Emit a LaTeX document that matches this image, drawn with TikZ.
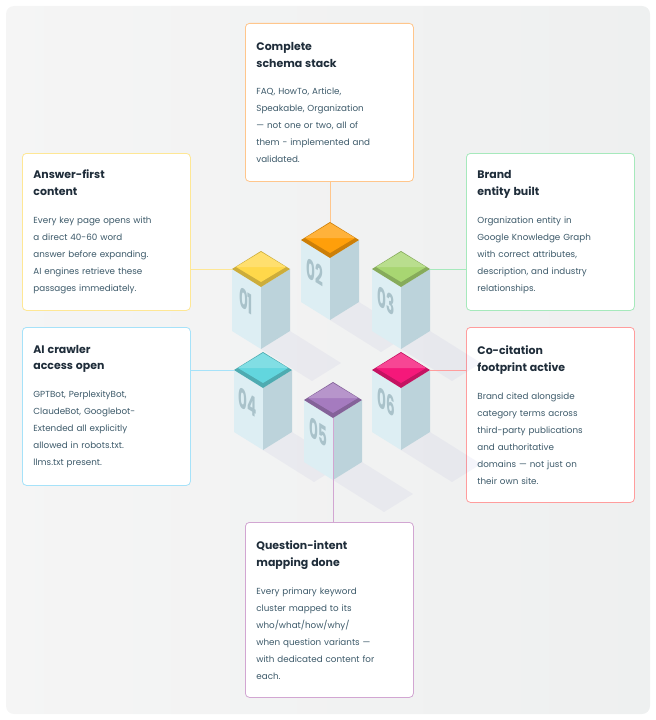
\documentclass[tikz,border=0pt]{standalone}
\usepackage{fontspec}
\setmainfont{Poppins}
\usetikzlibrary{positioning}
\definecolor{titlecol}{HTML}{1F2D3A}
\definecolor{bodycol}{HTML}{3D5A6A}
\definecolor{leftface}{HTML}{DDEEF3}
\definecolor{rightface}{HTML}{BCD3DB}
\definecolor{numcol}{HTML}{A9C2CA}
\definecolor{cyellow}{HTML}{FFD84A}
\definecolor{corange}{HTML}{FF9F0A}
\definecolor{cgreen}{HTML}{A8D672}
\definecolor{ccyan}{HTML}{62D6DE}
\definecolor{cpurple}{HTML}{A57BBF}
\definecolor{cpink}{HTML}{F5187A}
\tikzset{
  card/.style={draw, fill=white, rounded corners=4bp, line width=0.8bp,
    anchor=north west, align=left, text width=146bp, inner xsep=11bp,
    inner ysep=7bp, text=bodycol, font=\fontsize{8.8}{17}\selectfont},
  link/.style={line width=0.7bp}
}
\newcommand{\cardtext}[2]{{\fontsize{11}{21}\selectfont\bfseries\color{titlecol}#1}\\[11bp]#2}
% one pillar: top vertex, colour, number
\newcommand{\pillar}[4]{%
  \begin{scope}[shift={(#1,#2)}]
    \fill[blue!40!gray, opacity=0.05] (0,98) -- (29,80) -- (80,112) -- (51,130) -- cycle;
    \fill[leftface] (-29,18) -- (0,36) -- (0,98) -- (-29,80) -- cycle;
    \fill[rightface] (29,18) -- (0,36) -- (0,98) -- (29,80) -- cycle;
    \fill[#3!80!black] (-29,18) -- (0,0) -- (29,18) -- (0,36) -- cycle;
    \fill[#3] (-25,16) -- (0,1) -- (25,16) -- (0,31) -- cycle;
    \fill[white, opacity=0.2] (-25,16) -- (0,1) -- (25,16) -- cycle;
    \node[text=numcol, font=\fontsize{22}{22}\selectfont\bfseries,
      cm={1,-0.62,0,1,(0,0)}, transform shape] at (-15,50) {\scalebox{0.62}[1.25]{#4}};
  \end{scope}}
\begin{document}
\begin{tikzpicture}[x=1bp, y=-1bp]
  \useasboundingbox (0,0) rectangle (656,720);
  \shade[left color=gray!8, right color=teal!10!gray!12, rounded corners=8bp]
    (6,6) rectangle (650,714);
  % cards
  \node[card, draw=orange!45, minimum height=158bp] (schema) at (245,23)
    {\cardtext{Complete\\schema stack}{FAQ, HowTo, Article,\\Speakable, Organization\\— not one or two, all of\\them - implemented and\\validated.}};
  \node[card, draw=yellow!60!orange!40, minimum height=157bp] (answer) at (22,153)
    {\cardtext{Answer-first\\content}{Every key page opens with\\a direct 40-60 word\\answer before expanding.\\AI engines retrieve these\\passages immediately.}};
  \node[card, draw=green!50!teal!35, minimum height=157bp] (brand) at (466,153)
    {\cardtext{Brand\\entity built}{Organization entity in\\Google Knowledge Graph\\with correct attributes,\\description, and industry\\relationships.}};
  \node[card, draw=cyan!35, minimum height=158bp] (crawler) at (22,327)
    {\cardtext{AI crawler\\access open}{GPTBot, PerplexityBot,\\ClaudeBot, Googlebot-\\Extended all explicitly\\allowed in robots.txt.\\llms.txt present.}};
  \node[card, draw=red!40!pink!70, minimum height=175bp] (cocite) at (466,327)
    {\cardtext{Co-citation\\footprint active}{Brand cited alongside\\category terms across\\third-party publications\\and authoritative\\domains — not just on\\their own site.}};
  \node[card, draw=violet!35, minimum height=175bp] (question) at (245,522)
    {\cardtext{Question-intent\\mapping done}{Every primary keyword\\cluster mapped to its\\who/what/how/why/\\when question variants —\\with dedicated content for\\each.}};
  % pillars
  \pillar{330}{222}{corange}{02}
  \pillar{261}{251}{cyellow}{01}
  \pillar{401}{251}{cgreen}{03}
  \pillar{263}{352}{ccyan}{04}
  \pillar{401}{352}{cpink}{06}
  \pillar{333}{382}{cpurple}{05}
  \coordinate (p01) at (232,269);
  \coordinate (p02) at (330,222);
  \coordinate (p03) at (430,269);
  \coordinate (p04) at (234,370);
  \coordinate (p05) at (333,418);
  \coordinate (p06) at (430,370);
  % connectors
  \draw[link, orange!45] (schema.south -| p02) -- (p02);
  \draw[link, yellow!60!orange!40] (answer.east |- p01) -- (p01);
  \draw[link, green!50!teal!35] (brand.west |- p03) -- (p03);
  \draw[link, cyan!35] (crawler.east |- p04) -- (p04);
  \draw[link, red!40!pink!70] (cocite.west |- p06) -- (p06);
  \draw[link, violet!35] (p05) -- (p05 |- question.north);
\end{tikzpicture}
\end{document}
